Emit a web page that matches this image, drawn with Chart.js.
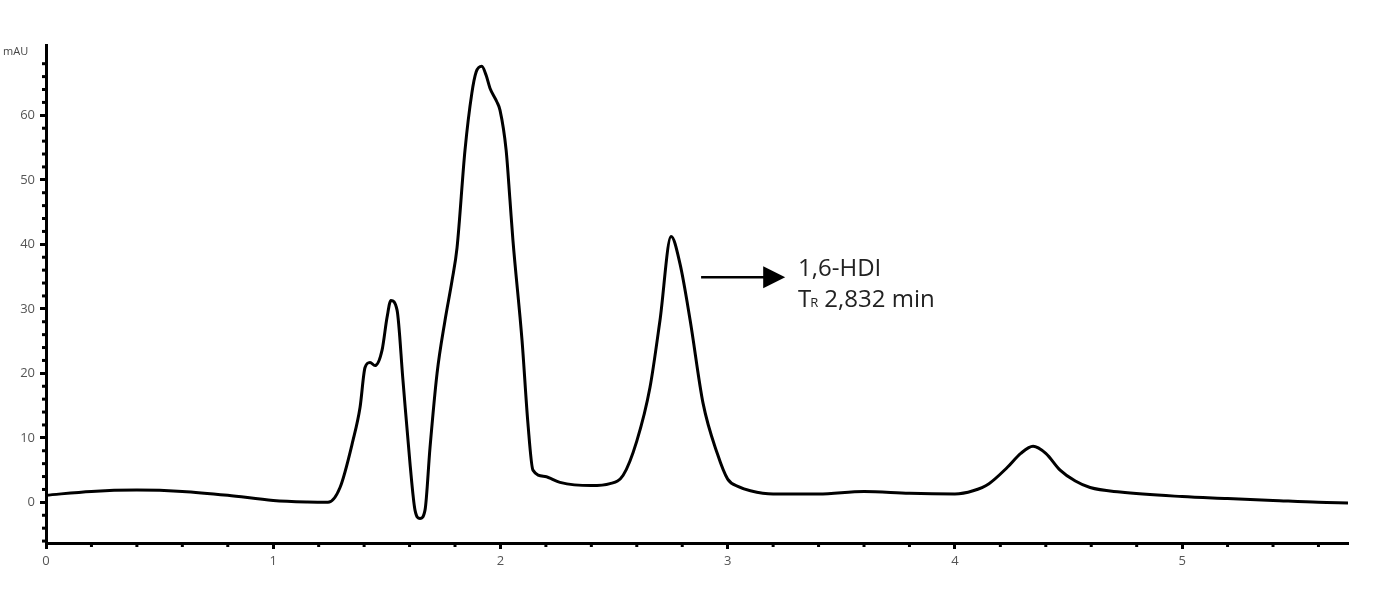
<!DOCTYPE html>
<html>
<head>
<meta charset="utf-8">
<script src="https://cdn.jsdelivr.net/npm/chart.js@4/dist/chart.umd.min.js"></script>
<style>
  html, body { margin: 0; padding: 0; background: #fff; }
  #wrap { width: 1382px; height: 599px; position: relative; }
</style>
</head>
<body>
<div id="wrap"><canvas id="chart-hplc"></canvas></div>
<script>
// retention time (min) and absorbance (mAU)
const times = [
  0, 0.2, 0.4, 0.6, 0.8, 1.0, 1.15, 1.241, 1.294, 1.351, 1.382, 1.404, 1.426, 1.448,
  1.479, 1.501, 1.518, 1.545, 1.571, 1.602, 1.624, 1.646, 1.668, 1.690, 1.721, 1.756,
  1.787, 1.809, 1.844, 1.874, 1.893, 1.918, 1.937, 1.954, 1.984, 1.998, 2.025, 2.042,
  2.055, 2.095, 2.121, 2.143, 2.196, 2.262, 2.399, 2.482, 2.540, 2.600, 2.658, 2.702,
  2.751, 2.790, 2.835, 2.892, 2.954, 3.0, 3.05, 3.1, 3.2, 3.4, 3.6, 3.8, 4.0, 4.08,
  4.15, 4.23, 4.29, 4.344, 4.40, 4.463, 4.53, 4.595, 4.727, 5.0, 5.2, 5.4, 5.6, 5.73
]
const absorbance = [
  1.1, 1.7, 1.9, 1.7, 1.1, 0.3, 0.05, 0, 2.3, 9.6, 14.7, 20.9, 21.7, 21.2,
  23.6, 28.7, 31.3, 29.8, 18.9, 6.0, -1.2, -2.5, -1.2, 8.5, 20, 28.2,
  34.4, 39.5, 54.6, 63.4, 66.7, 67.6, 66.2, 64.2, 62.1, 60.8, 54.6, 46.8,
  40.6, 25.1, 12.2, 5.0, 4.0, 3.1, 2.6, 2.9, 4.2, 9.5, 17.8, 28.2,
  41.2, 37.0, 28.2, 15.3, 7.6, 3.6, 2.4, 1.8, 1.3, 1.3, 1.7, 1.4, 1.3, 1.8,
  2.9, 5.4, 7.6, 8.7, 7.6, 5.0, 3.3, 2.3, 1.6, 0.9, 0.6, 0.3, 0, -0.1
]
const yTicks = [0, 10, 20, 30, 40, 50, 60]
const xTicks = [0, 1, 2, 3, 4, 5]
const peakLabel = '1,6-HDI'
const retentionLabel = '2,832 min'

const points = times.map((t, i) => ({ x: t, y: absorbance[i] }))

// minor ticks, arrow and peak label
const extras = {
  id: 'extras',
  afterDraw(chart) {
    const { ctx, scales } = chart
    const x = scales.x
    const y = scales.y
    ctx.save()
    ctx.strokeStyle = '#000'
    ctx.lineWidth = 3
    for (let v = -6; v <= 70; v += 2) {
      if (v % 10 === 0) continue
      const py = y.getPixelForValue(v)
      ctx.beginPath()
      ctx.moveTo(x.left - 4, py)
      ctx.lineTo(x.left, py)
      ctx.stroke()
    }
    for (let i = 1; i < 29; i++) {
      if (i % 5 === 0) continue
      const px = x.getPixelForValue(i * 0.2)
      ctx.beginPath()
      ctx.moveTo(px, y.bottom)
      ctx.lineTo(px, y.bottom + 4)
      ctx.stroke()
    }

    // arrow
    const ay = y.getPixelForValue(34.9)
    const ax0 = x.getPixelForValue(2.883)
    const ax1 = x.getPixelForValue(3.253)
    ctx.lineWidth = 2.5
    ctx.beginPath()
    ctx.moveTo(ax0, ay)
    ctx.lineTo(ax1 - 18, ay)
    ctx.stroke()
    ctx.fillStyle = '#000'
    ctx.beginPath()
    ctx.moveTo(ax1, ay)
    ctx.lineTo(ax1 - 22, ay - 11)
    ctx.lineTo(ax1 - 22, ay + 11)
    ctx.closePath()
    ctx.fill()

    // label
    const tx = x.getPixelForValue(3.31)
    const line1 = y.getPixelForValue(34.9) - 1
    const line2 = y.getPixelForValue(30.3) + 0
    ctx.fillStyle = '#222'
    ctx.textBaseline = 'alphabetic'
    ctx.font = '24px "Open Sans"'
    ctx.fillText(peakLabel, tx, line1)
    ctx.fillText('T', tx, line2)
    const tw = ctx.measureText('T').width
    ctx.font = '13px "Open Sans"'
    ctx.fillText('R', tx + tw - 1, line2)
    const rw = ctx.measureText('R').width
    ctx.font = '24px "Open Sans"'
    ctx.fillText(retentionLabel, tx + tw + rw + 5, line2)

    // unit label
    ctx.font = '11px "Open Sans"'
    ctx.fillStyle = '#444'
    ctx.fillText('mAU', 3, y.top + 10)
    ctx.restore()
  }
}

new Chart(document.getElementById('chart-hplc'), {
  type: 'line',
  data: {
    datasets: [{
      data: points,
      borderColor: '#000',
      borderWidth: 3,
      pointRadius: 0,
      fill: false,
      cubicInterpolationMode: 'monotone',
    }]
  },
  options: {
    responsive: true,
    maintainAspectRatio: false,
    animation: false,
    layout: { padding: { left: 0, right: 34, top: 45, bottom: 0 } },
    plugins: { legend: { display: false }, tooltip: { enabled: false } },
    scales: {
      x: {
        type: 'linear',
        min: 0,
        max: 5.73,
        afterBuildTicks(axis) { axis.ticks = xTicks.map(v => ({ value: v })) },
        afterFit(axis) { axis.height = 56 },
        border: { color: '#000', width: 3 },
        grid: { display: true, drawOnChartArea: false, tickLength: 6, tickWidth: 3, tickColor: '#000' },
        ticks: { color: '#555', font: { family: 'Open Sans', size: 13 }, padding: 4, maxRotation: 0 },
      },
      y: {
        type: 'linear',
        min: -6.3,
        max: 70.9,
        afterBuildTicks(axis) { axis.ticks = yTicks.map(v => ({ value: v })) },
        afterFit(axis) { axis.width = 46 },
        border: { color: '#000', width: 3 },
        grid: { display: true, drawOnChartArea: false, tickLength: 6, tickWidth: 3, tickColor: '#000' },
        ticks: { color: '#555', font: { family: 'Open Sans', size: 13 }, padding: 5 },
      },
    },
  },
  plugins: [extras],
})
</script>
</body>
</html>
